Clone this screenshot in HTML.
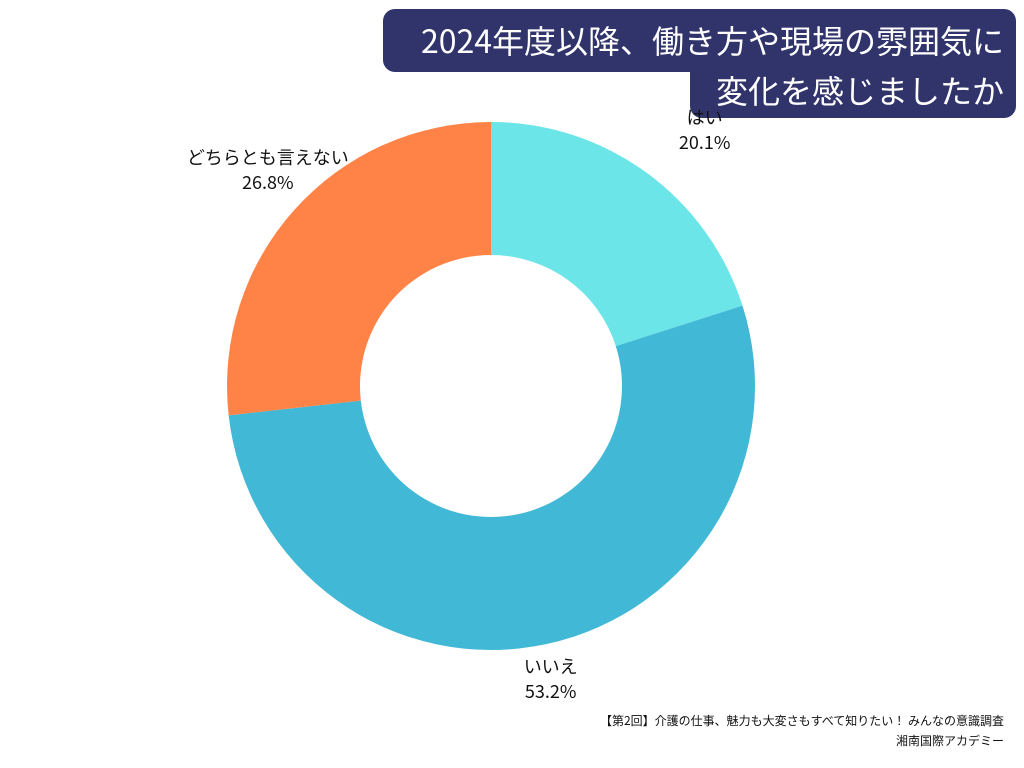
<!DOCTYPE html>
<html><head><meta charset="utf-8"><style>
body{margin:0;width:1024px;height:768px;background:#fff;overflow:hidden;font-family:"Liberation Sans","Noto Sans CJK JP",sans-serif;position:relative}
.t{position:absolute;background:#30346b;color:#fff;font-size:32px;font-family:"Noto Sans CJK JP",sans-serif;white-space:nowrap}
.lab{position:absolute;font-size:18px;text-align:center;color:#111;font-family:"Noto Sans CJK JP",sans-serif;line-height:25px;transform:translateX(-50%)}
.foot{position:absolute;right:20px;top:711px;font-size:12px;text-align:right;line-height:20px;color:#111;font-family:"Noto Sans CJK JP",sans-serif}
</style></head><body>
<svg id="chart" width="1024" height="768" style="position:absolute;left:0;top:0"></svg>
<div class="t" style="left:383px;top:9px;width:633px;height:63px;border-radius:12px 12px 0 12px;line-height:63px;text-align:right;box-sizing:border-box;padding-right:12px">2024年度以降、働き方や現場の雰囲気に</div>
<div class="t" style="left:690px;top:70px;width:326px;height:48px;border-radius:0 0 12px 12px;line-height:40px;text-align:right;box-sizing:border-box;padding-right:12px">変化を感じましたか</div>
<div class="foot">【第2回】介護の仕事、魅力も大変さもすべて知りたい！ みんなの意識調査<br>湘南国際アカデミー</div>
<script>
const categories=["はい","いいえ","どちらとも言えない"];
const values=[20.1,53.2,26.8];
const colors=["#6ce5e8","#41b8d5","#ff8347"];
const cx=491,cy=386,R=264,r=131;
const svg=document.getElementById('chart');
const NS="http://www.w3.org/2000/svg";
const total=values.reduce((a,b)=>a+b,0);
function pt(a,rad){return [cx+rad*Math.sin(a),cy-rad*Math.cos(a)];}
let a0=0;
values.forEach((v,i)=>{
  const a1=a0+v/total*2*Math.PI;
  const large=(a1-a0)>Math.PI?1:0;
  const p1=pt(a0,R),p2=pt(a1,R),p3=pt(a1,r),p4=pt(a0,r);
  const p=document.createElementNS(NS,'path');
  p.setAttribute('d',`M${p1[0]},${p1[1]}A${R},${R} 0 ${large} 1 ${p2[0]},${p2[1]}L${p3[0]},${p3[1]}A${r},${r} 0 ${large} 0 ${p4[0]},${p4[1]}Z`);
  p.setAttribute('fill',colors[i]);
  
  
  svg.appendChild(p);
  const mid=(a0+a1)/2;
  const lp=pt(mid,R+22);
  let x=lp[0],y=lp[1];
  if(Math.abs(Math.sin(mid))<0.99){}
  const d=document.createElement('div');
  d.className='lab';
  
  
  d.innerHTML=categories[i]+'<br>'+v.toFixed(1)+'%';
  const c=Math.cos(mid);
  d.style.left=(x+(Math.sin(mid)>0?40:-40)*Math.abs(c)*0.0+ (i==0?45:0))+'px';
  d.style.top=(c>0? y-50 : y-12)+'px';
  if(i==2){d.style.left=(x-10)+'px';}
  document.body.appendChild(d);
  a0=a1;
});
</script>
</body></html>
